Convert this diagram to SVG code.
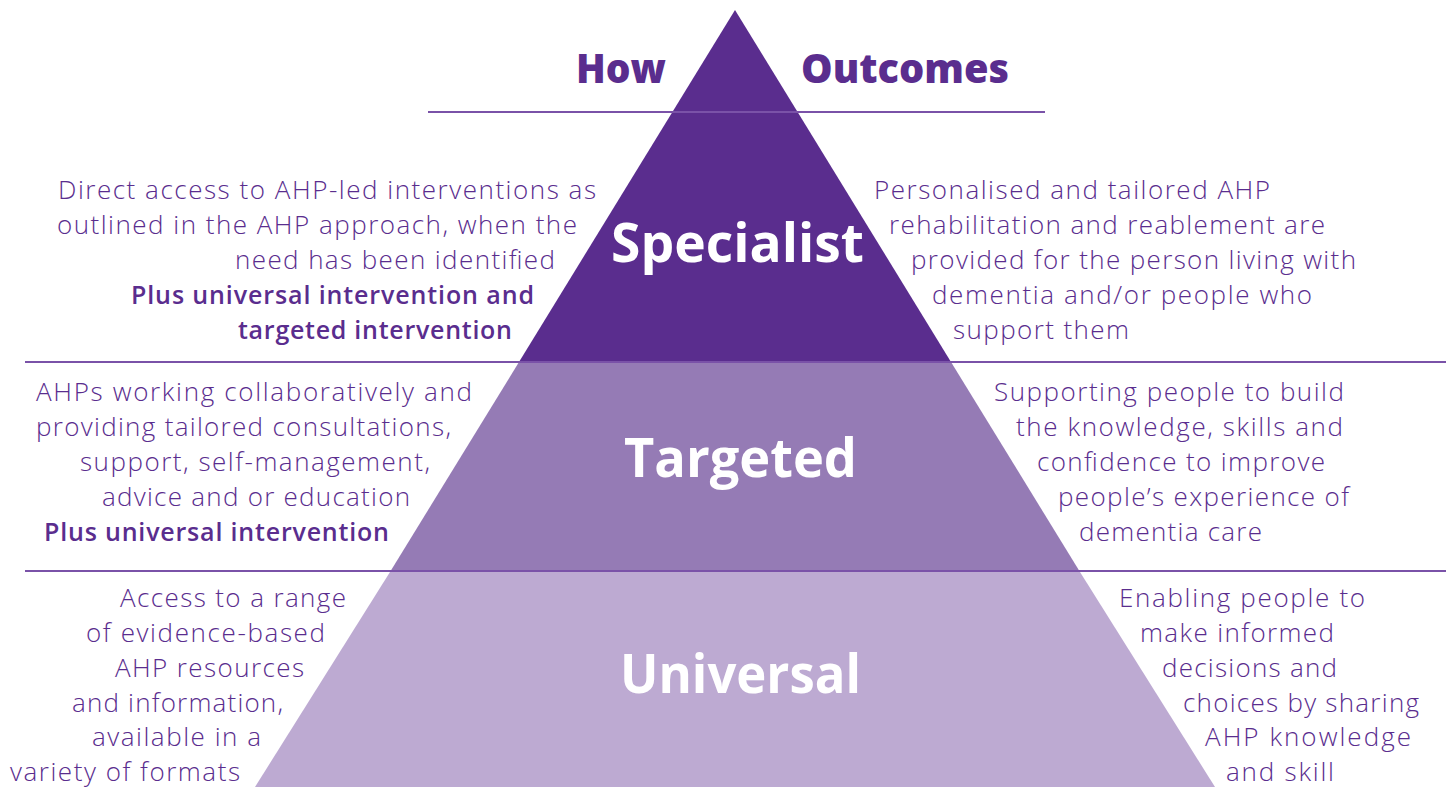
<svg xmlns="http://www.w3.org/2000/svg" width="1454" height="787" viewBox="0 0 1454 787">
<style>
.b{font-family:"Open Sans","Liberation Sans",sans-serif;font-size:26px;font-weight:300;fill:#5a2d8e}
.s{font-family:"Open Sans","Liberation Sans",sans-serif;font-size:25px;font-weight:600;fill:#5a2d8e}
.h{font-family:"Open Sans","Liberation Sans",sans-serif;font-size:40px;font-weight:800;fill:#5a2d8e}
.t{font-family:"Open Sans","Liberation Sans",sans-serif;font-size:54px;font-weight:700;fill:#ffffff}
.ln{stroke:#7a52a8;stroke-width:2;fill:none}
</style>
<rect width="1454" height="787" fill="#ffffff"/>
<g id="pyramid">
<polygon id="tier-specialist" points="735,10 951,362 519,362" fill="#5a2d8e"/>
<polygon id="tier-targeted" points="519,362 951,362 1080,572 390,572" fill="#957bb5"/>
<polygon id="tier-universal" points="390,572 1080,572 1215,787 255,787" fill="#bdaad2"/>
</g>
<g id="connectors">
<line class="ln" x1="428" y1="112" x2="1045" y2="112"/>
<line class="ln" x1="25" y1="362" x2="1446" y2="362"/>
<line class="ln" x1="25" y1="571" x2="1446" y2="571"/>
</g>
<g id="headers">
<text class="h" x="576" y="83" textLength="90" lengthAdjust="spacingAndGlyphs">How</text>
<text class="h" x="801" y="83" textLength="208" lengthAdjust="spacingAndGlyphs">Outcomes</text>
</g>
<g id="labels">
<text class="t" x="611" y="262" textLength="253" lengthAdjust="spacingAndGlyphs">Specialist</text>
<text class="t" x="624" y="477" textLength="233" lengthAdjust="spacingAndGlyphs">Targeted</text>
<text class="t" x="620" y="693" textLength="241" lengthAdjust="spacingAndGlyphs">Universal</text>
</g>
<g id="how-specialist">
<text class="b" x="58" y="199" textLength="538">Direct access to AHP-led interventions as</text>
<text class="b" x="57" y="234" textLength="520">outlined in the AHP approach, when the</text>
<text class="b" x="235" y="269" textLength="320">need has been identified</text>
<text class="s" x="131" y="304" textLength="403">Plus universal intervention and</text>
<text class="s" x="238" y="339" textLength="274">targeted intervention</text>
</g>
<g id="outcome-specialist">
<text class="b" x="874" y="199" textLength="396">Personalised and tailored AHP</text>
<text class="b" x="889" y="234" textLength="436">rehabilitation and reablement are</text>
<text class="b" x="911" y="269" textLength="445">provided for the person living with</text>
<text class="b" x="932" y="304" textLength="380">dementia and/or people who</text>
<text class="b" x="953" y="339" textLength="176">support them</text>
</g>
<g id="how-targeted">
<text class="b" x="36" y="401" textLength="436">AHPs working collaboratively and</text>
<text class="b" x="36" y="436" textLength="415">providing tailored consultations,</text>
<text class="b" x="80" y="471" textLength="350">support, self-management,</text>
<text class="b" x="102" y="506" textLength="308">advice and or education</text>
<text class="s" x="44" y="541" textLength="345">Plus universal intervention</text>
</g>
<g id="outcome-targeted">
<text class="b" x="994" y="401" textLength="350">Supporting people to build</text>
<text class="b" x="1016" y="436" textLength="327">the knowledge, skills and</text>
<text class="b" x="1037" y="471" textLength="288">confidence to improve</text>
<text class="b" x="1058" y="506" textLength="291">people’s experience of</text>
<text class="b" x="1079" y="541" textLength="183">dementia care</text>
</g>
<g id="how-universal">
<text class="b" x="120" y="607" textLength="226">Access to a range</text>
<text class="b" x="86" y="642" textLength="239">of evidence-based</text>
<text class="b" x="115" y="677" textLength="189">AHP resources</text>
<text class="b" x="72" y="712" textLength="211">and information,</text>
<text class="b" x="92" y="746" textLength="169">available in a</text>
<text class="b" x="10" y="781" textLength="230">variety of formats</text>
</g>
<g id="outcome-universal">
<text class="b" x="1119" y="607" textLength="246">Enabling people to</text>
<text class="b" x="1140" y="642" textLength="194">make informed</text>
<text class="b" x="1162" y="677" textLength="175">decisions and</text>
<text class="b" x="1183" y="712" textLength="236">choices by sharing</text>
<text class="b" x="1205" y="746" textLength="206">AHP knowledge</text>
<text class="b" x="1226" y="781" textLength="108">and skill</text>
</g>
</svg>
